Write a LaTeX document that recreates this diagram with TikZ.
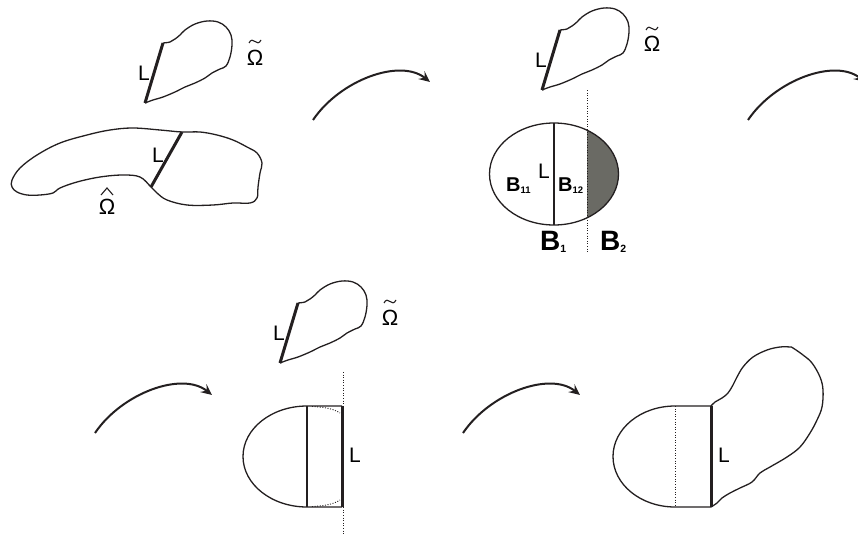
\documentclass[tikz,border=0pt]{standalone}
\usepackage{fontspec}
\setmainfont{Liberation Sans}
\usepackage{xcolor}
\definecolor{ink}{HTML}{231F20}
\definecolor{darkfill}{HTML}{6A6A64}
\usetikzlibrary{arrows.meta}

\tikzset{
  edgeline/.style={ink,line width=1.3pt},
  cutline/.style={ink,line width=3pt},
  dotline/.style={ink,line width=0.9pt,dash pattern=on 1pt off 1.6pt},
  accline/.style={ink,line width=1.1pt},
  maparrow/.style={ink,line width=2pt,-{Stealth[length=11pt,width=10pt,inset=4pt]}},
  lab/.style={inner sep=0,font=\fontsize{21}{25}\selectfont},
  omlab/.style={inner sep=0,font=\fontsize{22}{26}\selectfont},
  blab/.style={inner sep=0,font=\fontsize{20}{23}\selectfont\bfseries},
  bigblab/.style={inner sep=0,font=\fontsize{28}{31}\selectfont\bfseries},
  tildeblob/.pic={
    \coordinate (-top) at (0,0);
    \coordinate (-bot) at (-18,60);
    \draw[edgeline] plot[smooth,tension=0.6] coordinates {(0,0) (7,-1) (12,-4) (17,-8) (22,-13)
      (32,-19) (44,-22) (55,-21) (63,-16) (68,-8) (69,2) (67,14) (63,23) (57,26) (49,30)
      (42,35) (32,40) (22,44) (12,49) (0,54) (-10,57) (-18,60)};
    \draw[cutline] (-top) -- (-bot);
    \node[lab,anchor=base west] (-L) at (-25,37) {L};
    \node[omlab,anchor=base] (-om) at (92,22) {Ω};
    % tilde over the omega
    \draw[accline] (86,0) .. controls (88,-4) and (90,-3) .. (92,-1.5)
      .. controls (94,0) and (96,1) .. (98,-3);
  }
}

\begin{document}
\begin{tikzpicture}[x=1pt,y=-1pt]
  \clip (0,0) rectangle (858,535);

  % top left: the two domains glued along L
  \pic (ta) at (163,43) {tildeblob};
  \coordinate (hl) at (151,187);
  \coordinate (hr) at (182,132);
  \draw[edgeline] plot[smooth cycle,tension=0.6] coordinates {(182,132) (160,130) (133,128)
    (110,130) (87,135) (60,143) (37,155) (20,168) (12,180) (12,187) (17,192) (27,195)
    (40,195) (53,193) (60,188) (77,182) (100,177) (123,175) (140,177) (151,187) (157,193)
    (167,200) (187,205) (213,205) (233,203) (250,203) (257,198) (258,187) (260,173)
    (262,163) (257,153) (247,147) (233,140) (217,135) (200,132)};
  \draw[cutline] (hl) -- (hr);
  \node[lab,anchor=base west] (hatL) at (152,162) {L};
  \node[omlab,anchor=base] (hatom) at (107,214) {Ω};
  \draw[accline,line join=miter] (101,195) -- (107,188) -- (113,195);

  % top middle: the ball B1 and the cut B2
  \pic (tb) at (560,30) {tildeblob};
  \coordinate (ec) at (554,174);
  \begin{scope}
    \clip (587,100) rectangle (640,250);
    \fill[darkfill] (ec) ellipse[x radius=64.5,y radius=51];
  \end{scope}
  \draw[edgeline] (ec) ellipse[x radius=64.5,y radius=51];
  \coordinate (bt) at (554,123);
  \coordinate (bb) at (554,225);
  \draw[ink,line width=2.6pt] (bt) -- (bb);
  \coordinate (dt) at (587,90);
  \coordinate (db) at (587,253);
  \draw[dotline] (dt) -- (db);
  \node[lab,anchor=base west] (ballL) at (538,178) {L};
  \node[blab,anchor=base west] (b11) at (506,191) {B\raisebox{-2pt}{\fontsize{9.5}{10}\selectfont 11}};
  \node[blab,anchor=base west] (b12) at (558,191) {B\raisebox{-2pt}{\fontsize{9.5}{10}\selectfont 12}};
  \node[bigblab,anchor=base west] (b1) at (540,250) {B\raisebox{-2pt}{\fontsize{10.5}{11}\selectfont 1}};
  \node[bigblab,anchor=base west] (b2) at (600,250) {B\raisebox{-2pt}{\fontsize{10.5}{11}\selectfont 2}};

  % bottom middle: half ball, squeezed strip
  \pic (tc) at (298,303) {tildeblob};
  \coordinate (ct) at (342,406);
  \coordinate (cb) at (342,507);
  \draw[edgeline] (ct) -- (307,406) arc[start angle=-90,end angle=-270,x radius=64,y radius=50.5] -- (cb);
  \draw[edgeline] (307,406) -- (307,507);
  \draw[dotline] (312,406.5) .. controls (325,407) and (334,409) .. (340,413);
  \draw[dotline] (312,506.5) .. controls (325,506) and (334,504) .. (340,500);
  \draw[cutline] (ct) -- (cb);
  \coordinate (et) at (343,372);
  \coordinate (eb) at (343,535);
  \draw[dotline] (et) -- (eb);
  \node[lab,anchor=base west] (halfL) at (349,462) {L};

  % bottom right: the glued domain
  \coordinate (ft) at (711,406);
  \coordinate (fb) at (711,507);
  \draw[edgeline] (ft) -- (675,406) arc[start angle=-90,end angle=-270,x radius=62,y radius=50.5] -- (fb);
  \draw[dotline] (675,406) -- (675,507);
  \draw[edgeline] plot[smooth,tension=0.6] coordinates {(711,406) (715,402) (722,398) (728,393)
    (733,385) (737,377) (743,367) (753,357) (767,350) (780,347) (790,347) (793,348) (803,355)
    (812,363) (820,377) (823,390) (822,407) (817,420) (810,433) (800,447) (787,457) (770,467)
    (760,473) (752,482) (740,488) (730,493) (722,498) (717,503) (711,507)};
  \draw[cutline] (ft) -- (fb);
  \node[lab,anchor=base west] (gluedL) at (718,462) {L};

  % the maps between the steps
  \foreach \n/\dx/\dy in {1/0/0, 2/435/0, 3/-218/313, 4/150/313} {
    \coordinate (arr\n s) at (313+\dx,120+\dy);
    \coordinate (arr\n e) at (430+\dx,82+\dy);
    \draw[maparrow] (arr\n s) .. controls +(27,-40) and +(-30,-24) .. (arr\n e);
  }
\end{tikzpicture}
\end{document}
